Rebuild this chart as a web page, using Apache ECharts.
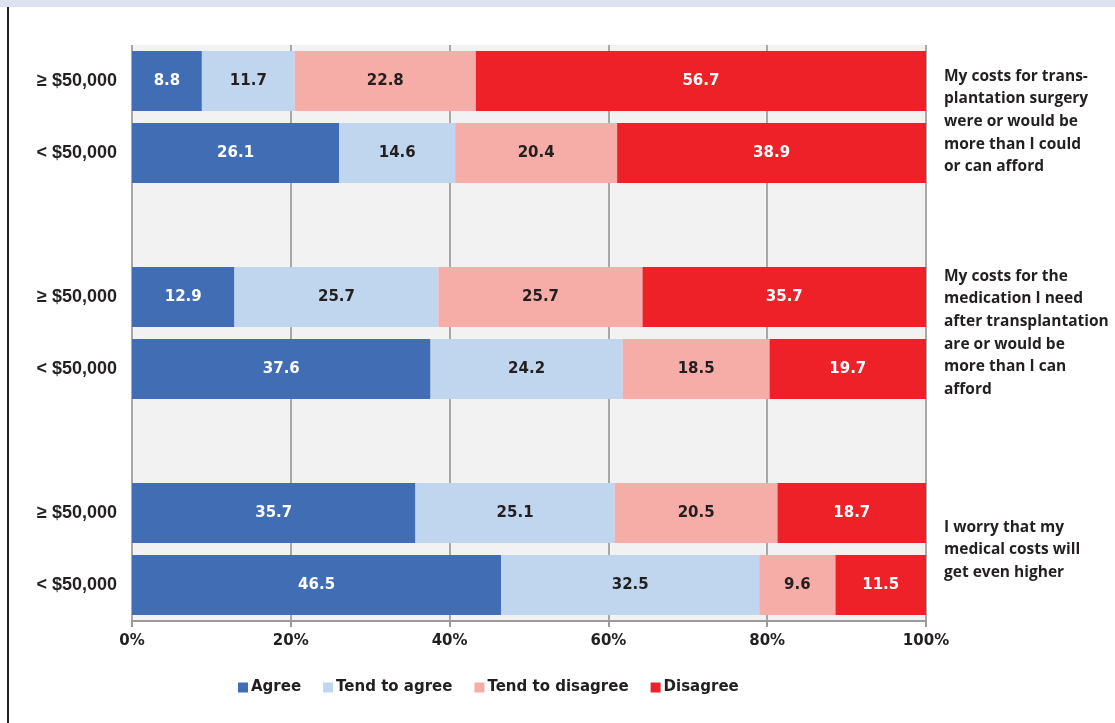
<!DOCTYPE html>
<html>
<head>
<meta charset="utf-8">
<script src="https://cdn.jsdelivr.net/npm/echarts@6/dist/echarts.min.js"></script>
<style>
  html, body { margin: 0; padding: 0; background: #fff; }
  #main { width: 1115px; height: 723px; }
</style>
</head>
<body>
<div id="main"></div>
<script>
// rows top to bottom, '' rows are spacers between the three statements
var categories = ['\u2265 $50,000', '< $50,000', '', '\u2265 $50,000', '< $50,000', '', '\u2265 $50,000', '< $50,000'];
var agree = [8.8, 26.1, null, 12.9, 37.6, null, 35.7, 46.5];
var tendAgree = [11.7, 14.6, null, 25.7, 24.2, null, 25.1, 32.5];
var tendDisagree = [22.8, 20.4, null, 25.7, 18.5, null, 20.5, 9.6];
var disagree = [56.7, 38.9, null, 35.7, 19.7, null, 18.7, 11.5];
var seriesNames = ['Agree', 'Tend to agree', 'Tend to disagree', 'Disagree'];
var statements = [
    'My costs for trans-\nplantation surgery\nwere or would be\nmore than I could\nor can afford',
    'My costs for the\nmedication I need\nafter transplantation\nare or would be\nmore than I can\nafford',
    'I worry that my\nmedical costs will\nget even higher'
];

var colors = ['#416db4', '#c0d6ee', '#f6aca7', '#ee2128'];
var labelColors = ['#ffffff', '#231f20', '#231f20', '#ffffff'];
var allData = [agree, tendAgree, tendDisagree, disagree];

var series = [];
for (let i = 0; i < seriesNames.length; i++) {
    series.push({
        name: seriesNames[i],
        type: 'bar',
        stack: 'total',
        barCategoryGap: '16.7%',
        data: allData[i],
        itemStyle: {color: colors[i]},
        label: {
            show: true,
            position: 'inside',
            color: labelColors[i],
            fontFamily: 'DejaVu Sans',
            fontWeight: 'bold',
            fontSize: 15,
            formatter: function (p) { return p.value.toFixed(1); }
        }
    });
}

var statementText = {
    fontFamily: 'Open Sans',
    fontWeight: 'bold',
    fontSize: 15.5,
    lineHeight: 22.6,
    fill: '#231f20'
};

var myChart = echarts.init(document.getElementById('main'));
myChart.setOption({
    animation: false,
    backgroundColor: '#ffffff',
    color: colors,
    grid: {
        left: 132, right: 189, top: 45, bottom: 102,
        show: true, backgroundColor: '#f2f2f2', borderWidth: 0
    },
    xAxis: {
        type: 'value',
        min: 0, max: 100, interval: 20,
        axisLine: {show: true, lineStyle: {color: '#9a9a9a', width: 2}},
        axisTick: {show: true, length: 6, lineStyle: {color: '#9a9a9a', width: 2}},
        splitLine: {show: true, lineStyle: {color: '#8e8e8e', width: 1.5}},
        axisLabel: {
            formatter: '{value}%',
            color: '#231f20', fontFamily: 'DejaVu Sans', fontWeight: 'bold',
            fontSize: 15, margin: 13
        }
    },
    yAxis: {
        type: 'category',
        inverse: true,
        data: categories,
        axisLine: {show: false},
        axisTick: {show: false},
        axisLabel: {
            color: '#231f20', fontFamily: 'Liberation Sans', fontWeight: 'bold',
            fontSize: 18, margin: 15
        }
    },
    legend: {
        top: 675,
        left: 233,
        itemWidth: 10, itemHeight: 10, itemGap: 22,
        icon: 'rect',
        textStyle: {color: '#231f20', fontFamily: 'DejaVu Sans', fontWeight: 'bold', fontSize: 15, padding: [0, 0, 0, -2]},
        data: seriesNames
    },
    graphic: [
        {type: 'rect', left: 0, top: 0, shape: {width: 1115, height: 7}, style: {fill: '#dfe2f0'}},
        {type: 'rect', left: 7, top: 7, shape: {width: 2, height: 716}, style: {fill: '#231f20'}},
        {type: 'text', left: 944, top: 65, style: Object.assign({text: statements[0]}, statementText)},
        {type: 'text', left: 944, top: 265, style: Object.assign({text: statements[1]}, statementText)},
        {type: 'text', left: 944, top: 516, style: Object.assign({text: statements[2]}, statementText)}
    ],
    series: series
});
</script>
</body>
</html>
